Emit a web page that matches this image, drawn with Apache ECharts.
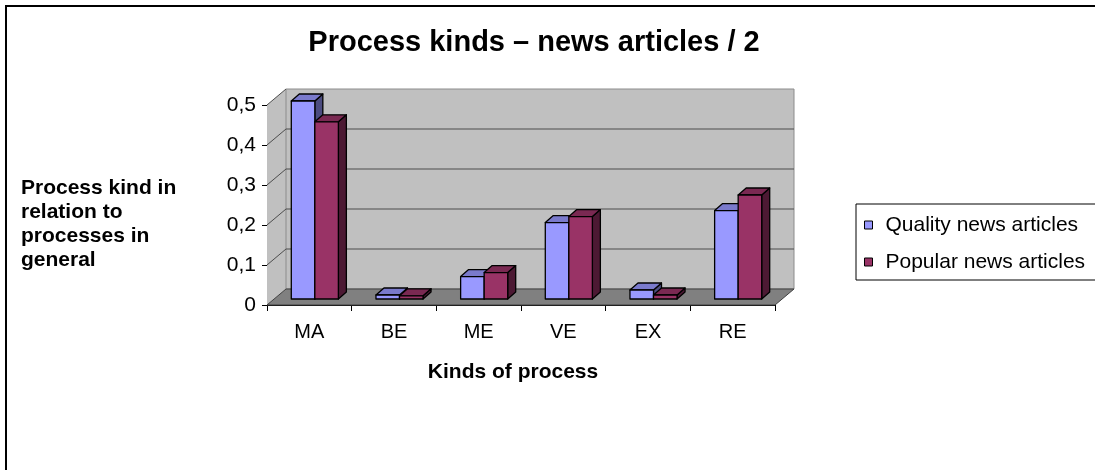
<!DOCTYPE html>
<html>
<head>
<meta charset="utf-8">
<title>Process kinds – news articles / 2</title>
<script src="https://cdn.jsdelivr.net/npm/echarts/dist/echarts.min.js"></script>
<style>
  html, body { margin: 0; padding: 0; background: #fff; }
  #chart { width: 1095px; height: 470px; }
</style>
</head>
<body>
<div id="chart"></div>
<script>
// Chart data
const categories = ['MA', 'BE', 'ME', 'VE', 'EX', 'RE'];
const seriesNames = ['Quality news articles', 'Popular news articles'];
const qualityValues = [0.495, 0.010, 0.056, 0.191, 0.0225, 0.221];
const popularValues = [0.443, 0.008, 0.066, 0.206, 0.010, 0.260];
const yMin = 0;
const yMax = 0.5;
const yStep = 0.1;

// Styling for the pseudo-3D look
const FONT = '"Liberation Sans", Arial, sans-serif';
const WALL_DEPTH = [19, -16];   // offset from the front plane to the back wall
const BAR_SHIFT = [5.5, -6];    // bars stand a little behind the front plane
const BAR_DEPTH = [8, -7];      // thickness of each bar
const BAR_RATIO = 0.278;        // bar width as part of a category band
const palette = [
  { front: '#9999ff', top: '#7a7acc', side: '#4c4c80' },
  { front: '#993366', top: '#7a2952', side: '#4c1933' }
];

function fmtTick(v) {
  return v === 0 ? '0' : v.toFixed(1).replace('.', ',');
}

// Side wall, back wall, floor and gridlines, placed with the axes' own scales
function renderWalls(params, api) {
  const band = api.size([1, 0])[0];
  const base = api.coord([0, yMin]);
  const x0 = base[0] - band / 2;
  const x1 = x0 + band * categories.length;
  const y0 = base[1];
  const yt = api.coord([0, yMax])[1];
  const dx = WALL_DEPTH[0], dy = WALL_DEPTH[1];
  const children = [];
  // side wall
  children.push({
    type: 'polygon',
    shape: { points: [[x0, yt], [x0 + dx, yt + dy], [x0 + dx, y0 + dy], [x0, y0]] },
    style: { fill: '#c0c0c0', stroke: null }
  });
  // back wall
  children.push({
    type: 'rect',
    shape: { x: x0 + dx, y: yt + dy, width: x1 - x0, height: y0 - yt },
    style: { fill: '#c0c0c0', stroke: '#8c8c8c', lineWidth: 1 }
  });
  // floor
  children.push({
    type: 'polygon',
    shape: { points: [[x0, y0], [x1, y0], [x1 + dx, y0 + dy], [x0 + dx, y0 + dy]] },
    style: { fill: '#808080', stroke: '#404040', lineWidth: 1 }
  });
  // gridlines running along the side wall and across the back wall
  for (let v = yMin + yStep; v < yMax - 1e-9; v += yStep) {
    const y = api.coord([0, v])[1];
    children.push({
      type: 'polyline',
      shape: { points: [[x0, y], [x0 + dx, y + dy], [x1 + dx, y + dy]] },
      style: { fill: null, stroke: '#4d4d4d', lineWidth: 1 }
    });
  }
  // top edge of the side wall
  children.push({
    type: 'line',
    shape: { x1: x0, y1: yt, x2: x0 + dx, y2: yt + dy },
    style: { stroke: '#4d4d4d', lineWidth: 1 }
  });
  return { type: 'group', children: children };
}

// One box-shaped bar: front face, top face and right side face
function makeBarRenderer(seriesIndex) {
  return function (params, api) {
    const cat = api.value(0);
    const val = api.value(1);
    const band = api.size([1, 0])[0];
    const w = band * BAR_RATIO;
    const center = api.coord([cat, yMin]);
    const topPt = api.coord([cat, val]);
    const left = center[0] + BAR_SHIFT[0] - w + seriesIndex * w;
    const yb = center[1] + BAR_SHIFT[1];
    const yt = topPt[1] + BAR_SHIFT[1];
    const ddx = BAR_DEPTH[0], ddy = BAR_DEPTH[1];
    const c = palette[seriesIndex];
    const edge = { stroke: '#000', lineWidth: 1.3, lineJoin: 'round' };
    return {
      type: 'group',
      children: [
        {
          type: 'polygon',
          shape: { points: [[left + w, yt], [left + w + ddx, yt + ddy], [left + w + ddx, yb + ddy], [left + w, yb]] },
          style: Object.assign({ fill: c.side }, edge)
        },
        {
          type: 'polygon',
          shape: { points: [[left, yt], [left + ddx, yt + ddy], [left + w + ddx, yt + ddy], [left + w, yt]] },
          style: Object.assign({ fill: c.top }, edge)
        },
        {
          type: 'rect',
          shape: { x: left, y: yt, width: w, height: yb - yt },
          style: Object.assign({ fill: c.front }, edge)
        }
      ]
    };
  };
}

const chart = echarts.init(document.getElementById('chart'), null, { renderer: 'canvas' });

const option = {
  animation: false,
  backgroundColor: '#ffffff',
  grid: { left: 267, top: 105, width: 508, height: 200, containLabel: false },
  xAxis: {
    type: 'category',
    data: categories,
    boundaryGap: true,
    axisLine: { show: true, lineStyle: { color: '#000', width: 1 } },
    axisTick: { show: true, alignWithLabel: false, interval: 0, length: 6, lineStyle: { color: '#000' } },
    axisLabel: { color: '#000', fontFamily: FONT, fontSize: 20, margin: 17, interval: 0 },
    splitLine: { show: false }
  },
  yAxis: {
    type: 'value',
    min: yMin,
    max: yMax,
    interval: yStep,
    axisLine: { show: true, lineStyle: { color: '#000', width: 1 } },
    axisTick: { show: true, length: 5, lineStyle: { color: '#000' } },
    axisLabel: { color: '#000', fontFamily: FONT, fontSize: 21, margin: 11, formatter: fmtTick },
    splitLine: { show: false }
  },
  legend: {
    orient: 'vertical',
    left: 856,
    top: 204,
    selectedMode: false,
    padding: [9, 40, 6, 8],
    itemGap: 13,
    itemWidth: 8,
    itemHeight: 8,
    borderColor: '#000',
    borderWidth: 1,
    backgroundColor: '#fff',
    textStyle: { color: '#000', fontFamily: FONT, fontSize: 21, lineHeight: 24, padding: [0, 0, 0, 8] },
    data: [
      { name: seriesNames[0], icon: 'rect', itemStyle: { color: palette[0].front, borderColor: '#000', borderWidth: 1 } },
      { name: seriesNames[1], icon: 'rect', itemStyle: { color: palette[1].front, borderColor: '#000', borderWidth: 1 } }
    ]
  },
  graphic: [
    {
      type: 'rect',
      silent: true,
      shape: { x: 6, y: 6, width: 1200, height: 600 },
      style: { fill: null, stroke: '#000', lineWidth: 2 },
      z: 100
    },
    {
      type: 'text',
      x: 534, y: 43,
      style: {
        text: 'Process kinds – news articles / 2',
        fill: '#000',
        font: 'bold 29px ' + FONT,
        textAlign: 'center',
        textVerticalAlign: 'middle'
      }
    },
    {
      type: 'text',
      x: 21, y: 176,
      style: {
        text: 'Process kind in\nrelation to\nprocesses in\ngeneral',
        fill: '#000',
        font: 'bold 21px ' + FONT,
        lineHeight: 24,
        textAlign: 'left',
        textVerticalAlign: 'top'
      }
    },
    {
      type: 'text',
      x: 513, y: 372,
      style: {
        text: 'Kinds of process',
        fill: '#000',
        font: 'bold 21px ' + FONT,
        textAlign: 'center',
        textVerticalAlign: 'middle'
      }
    }
  ],
  series: [
    {
      name: 'walls',
      type: 'custom',
      silent: true,
      clip: false,
      z: 1,
      renderItem: renderWalls,
      data: [[0, 0]],
      encode: { x: 0, y: 1 }
    },
    {
      name: seriesNames[0],
      type: 'custom',
      clip: false,
      z: 2,
      itemStyle: { color: palette[0].front },
      renderItem: makeBarRenderer(0),
      data: categories.map((c, i) => [i, qualityValues[i]]),
      encode: { x: 0, y: 1 }
    },
    {
      name: seriesNames[1],
      type: 'custom',
      clip: false,
      z: 3,
      itemStyle: { color: palette[1].front },
      renderItem: makeBarRenderer(1),
      data: categories.map((c, i) => [i, popularValues[i]]),
      encode: { x: 0, y: 1 }
    }
  ]
};

chart.setOption(option);
</script>
</body>
</html>
